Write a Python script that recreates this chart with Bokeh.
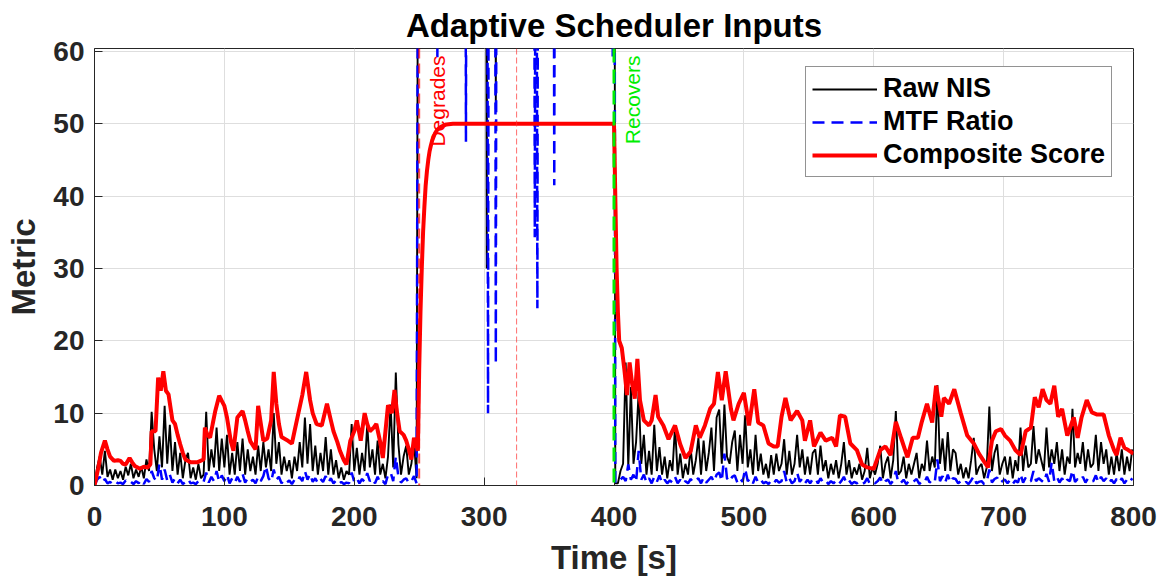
import numpy as np
from bokeh.plotting import figure
from bokeh.models import Range1d, Span, Label, FixedTicker
from bokeh.embed import file_html
from bokeh.resources import INLINE

# ---------------- data ----------------
# Raw NIS, before the fault: t = 0, 2, 4, ..., 248 s
nis_pre = [
    0.0, 2.5, 4.0, 1.5, 4.8, 1.2, 2.2, 0.8, 2.2, 1.0,
    2.0, 0.8, 2.6, 1.4, 3.0, 1.0, 2.2, 1.2, 2.6, 1.0,
    3.6, 2.0, 10.2, 5.0, 2.0, 6.8, 2.5, 11.0, 3.0, 8.4,
    2.0, 6.0, 1.5, 4.5, 1.0, 3.5, 4.5, 1.0, 2.5, 0.8,
    3.0, 1.0, 1.5, 10.2, 2.0, 5.0, 2.5, 8.0, 2.0, 6.5,
    2.5, 7.0, 1.5, 4.5, 1.5, 6.0, 2.0, 6.5, 1.5, 5.0,
    2.0, 4.0, 1.5, 5.5, 2.0, 6.0, 2.5, 5.0, 2.0, 10.0,
    3.0, 6.0, 1.5, 4.0, 2.0, 3.5, 1.0, 4.0, 2.0, 6.0,
    2.5, 9.4, 3.0, 8.5, 2.0, 5.5, 1.5, 4.5, 2.0, 6.7,
    1.5, 5.0, 1.5, 3.5, 1.0, 2.5, 0.8, 2.0, 1.5, 8.5,
    2.0, 5.2, 1.5, 4.5, 2.0, 8.5, 2.5, 5.0, 1.5, 6.2,
    1.5, 3.0, 1.0, 4.0, 11.2, 2.5, 15.6, 5.7, 1.5, 4.0,
    5.5, 1.5, 3.0, 6.0, 1.0,
]
# Raw NIS during the fault (values above 60 run off the top of the axes)
nis_fault_t = [250, 301, 302, 303, 308, 309, 310, 400]
nis_fault_v = [150, 150, 30, 150, 150, 52, 150, 150]
# Raw NIS after recovery: t = 401, 403, ..., 799 s
nis_post = [
    0.3, 0.3, 2.0, 3.0, 17.0, 2.5, 13.6, 3.0, 6.0, 13.0,
    3.0, 7.0, 1.5, 4.8, 1.5, 8.4, 2.0, 5.3, 1.5, 4.0,
    1.0, 3.5, 2.0, 8.2, 1.5, 4.4, 1.0, 3.0, 1.5, 5.2,
    1.5, 3.5, 6.6, 1.5, 6.2, 2.0, 4.5, 8.0, 2.0, 9.4,
    10.5, 3.0, 11.2, 4.0, 3.0, 6.0, 7.6, 2.0, 7.0, 3.0,
    9.7, 2.5, 5.0, 1.5, 7.0, 2.0, 4.4, 1.5, 3.0, 1.0,
    4.2, 1.5, 4.4, 2.0, 3.0, 6.4, 1.5, 4.8, 1.5, 3.0,
    7.0, 2.5, 5.0, 1.5, 4.0, 1.5, 4.5, 5.0, 1.5, 5.5,
    2.0, 3.5, 1.0, 3.0, 1.5, 3.5, 1.0, 3.0, 6.0, 1.5,
    3.5, 1.0, 2.5, 1.5, 3.0, 0.8, 2.0, 5.2, 1.0, 2.5,
    1.5, 3.0, 5.5, 1.0, 3.0, 4.0, 1.0, 3.5, 10.3, 1.5,
    2.0, 4.0, 1.0, 3.0, 1.5, 3.0, 4.5, 1.0, 3.0, 2.0,
    6.2, 2.0, 4.0, 2.5, 13.9, 3.0, 6.5, 2.0, 7.4, 2.0,
    5.0, 4.5, 1.5, 3.0, 1.0, 2.5, 1.0, 3.5, 6.6, 1.5,
    2.5, 3.0, 1.0, 2.5, 10.9, 2.0, 4.5, 5.7, 1.5, 3.0,
    4.0, 1.5, 4.0, 1.0, 3.5, 2.0, 8.0, 2.0, 5.5, 2.5,
    3.0, 8.2, 3.0, 5.0, 3.5, 2.0, 8.0, 2.5, 5.0, 3.0,
    6.0, 2.0, 5.0, 1.5, 4.0, 3.0, 10.6, 2.5, 4.5, 3.0,
    6.0, 2.0, 5.0, 2.5, 3.0, 7.0, 2.0, 6.0, 3.0, 5.0,
    1.5, 4.0, 1.5, 4.5, 2.0, 5.0, 1.5, 4.0, 2.0, 5.0,
]

# MTF ratio, before the fault: t = 0, 2, ..., 248 s
mtf_pre = [
    0.0, 0.8, 1.2, 0.4, 0.9, 0.3, 0.5, 0.2, 0.6, 0.3,
    0.4, 0.2, 0.7, 0.3, 0.5, 0.2, 0.6, 0.3, 0.8, 0.2,
    0.9, 0.5, 2.0, 1.0, 0.6, 3.0, 0.8, 2.2, 0.7, 1.5,
    0.4, 1.0, 0.3, 0.8, 0.2, 0.5, 0.9, 0.3, 0.4, 0.2,
    0.6, 0.3, 0.5, 1.8, 0.4, 1.2, 0.6, 2.0, 0.5, 1.4,
    0.6, 1.5, 0.3, 1.0, 0.4, 1.2, 0.5, 1.6, 0.4, 1.0,
    0.5, 0.8, 0.3, 1.2, 0.6, 1.3, 2.7, 1.0, 0.5, 2.2,
    0.8, 1.2, 0.3, 0.8, 0.4, 0.7, 0.2, 0.8, 0.5, 1.2,
    0.6, 2.0, 0.8, 1.6, 0.5, 1.0, 0.3, 0.9, 0.5, 1.3,
    0.4, 1.0, 0.3, 0.7, 0.2, 0.5, 0.2, 0.4, 0.3, 1.8,
    0.5, 1.0, 0.3, 0.9, 0.5, 1.7, 0.6, 1.0, 0.3, 1.2,
    0.3, 0.6, 0.2, 1.5, 1.8, 0.6, 4.0, 1.2, 0.4, 0.8,
    1.0, 0.3, 0.6, 1.3, 0.3,
]
mtf_fault_t = [250, 263, 264, 265, 285, 286, 287, 302, 303, 304, 308, 309, 310,
               338, 339, 340, 341, 342, 353, 354, 355, 398, 399, 400]
mtf_fault_v = [150, 150, 59.2, 150, 150, 47.5, 150, 150, 10.0, 150, 150, 16.8, 150,
               150, 34.3, 120, 24.5, 150, 150, 41.5, 150, 150, 59.3, 150]
# MTF ratio after recovery: t = 401, 403, ..., 799 s
mtf_post = [
    0.3, 0.5, 0.8, 1.2, 0.6, 2.9, 0.8, 1.5, 0.5, 4.8,
    0.8, 1.5, 0.4, 1.0, 0.3, 1.2, 0.5, 1.4, 0.3, 0.8,
    0.3, 0.7, 0.4, 1.2, 0.3, 0.8, 0.2, 0.6, 0.3, 0.9,
    0.4, 0.7, 1.0, 0.3, 1.1, 0.4, 0.8, 1.2, 0.5, 1.5,
    1.8, 0.6, 4.4, 1.0, 0.5, 1.2, 1.4, 0.4, 1.0, 0.5,
    2.3, 0.6, 1.0, 0.3, 1.2, 0.4, 0.8, 0.3, 0.5, 0.2,
    0.7, 0.3, 0.8, 0.4, 0.6, 2.0, 0.4, 1.0, 0.3, 0.6,
    1.8, 0.5, 1.0, 0.3, 0.8, 0.3, 0.9, 1.0, 0.3, 1.0,
    0.4, 0.7, 0.2, 0.6, 0.3, 0.7, 0.2, 0.6, 1.2, 0.3,
    0.7, 0.2, 0.5, 0.3, 0.6, 0.2, 0.4, 1.0, 0.2, 0.5,
    0.3, 0.6, 1.1, 0.2, 0.6, 0.8, 0.2, 0.7, 2.0, 0.3,
    0.4, 0.8, 0.2, 0.6, 0.3, 0.6, 0.9, 0.2, 0.6, 0.4,
    1.2, 0.4, 0.8, 0.5, 3.6, 0.6, 1.3, 0.4, 1.5, 0.4,
    1.0, 0.9, 0.3, 0.6, 0.2, 0.5, 0.2, 0.7, 1.3, 0.3,
    0.5, 0.6, 0.2, 0.5, 2.2, 0.4, 0.9, 1.1, 0.3, 0.6,
    0.8, 0.3, 0.8, 0.2, 0.7, 0.4, 1.6, 0.4, 1.1, 0.5,
    0.6, 2.0, 0.6, 1.0, 0.7, 0.4, 1.6, 0.5, 3.2, 0.6,
    1.2, 0.4, 1.0, 0.3, 0.8, 0.6, 2.1, 0.5, 0.9, 0.6,
    1.2, 0.4, 1.0, 0.5, 0.6, 1.4, 0.4, 1.2, 0.6, 1.0,
    0.3, 0.8, 0.3, 0.9, 0.4, 1.0, 0.3, 0.8, 0.4, 1.0,
]

# Composite score (time [s], value)
score_t = [0, 3, 5, 8, 10, 12, 15, 18, 20, 22, 24, 27, 29, 31, 35, 38, 41, 43, 44, 47,
           49, 51, 53, 55, 57, 60, 62, 64, 66, 68, 70, 74, 79, 84, 85, 87, 89, 91, 93, 96,
           98, 100, 102, 105, 107, 110, 114, 116, 118, 120, 124, 126, 130, 133, 136, 138, 140, 142, 144, 148,
           152, 154, 157, 160, 163, 166, 168, 171, 175, 179, 182, 184, 187, 189, 192, 194, 197, 200, 202, 205,
           208, 210, 212, 215, 217, 220, 222, 226, 229, 231, 233, 235, 238, 240, 242, 244, 246, 248, 249,
           250, 251, 252, 253, 254, 255, 256, 257, 258, 259, 260, 262, 264, 267, 271, 276, 400,
           401, 402, 403, 404, 406, 408, 410, 412, 414, 416, 418, 420, 423, 427, 429, 432, 434, 438, 442,
           447, 451, 455, 459, 463, 466, 470, 474, 477, 480, 483, 486, 490, 492, 496, 500, 504, 508, 511,
           515, 519, 523, 526, 529, 532, 536, 541, 545, 547, 551, 554, 559, 563, 568, 571, 574, 578, 582,
           587, 591, 595, 600, 605, 609, 613, 617, 621, 626, 630, 634, 637, 641, 645, 648, 652, 654, 658,
           662, 667, 672, 677, 681, 685, 688, 691, 694, 698, 701, 705, 709, 713, 717, 721, 724, 727, 730,
           733, 736, 739, 742, 745, 749, 754, 757, 760, 764, 768, 772, 777, 781, 785, 787, 790, 793, 796, 800]
score_v = [0.0, 2.5, 4.5, 6.2, 5.0, 4.0, 3.4, 3.5, 3.4, 3.0, 2.9, 3.8, 3.2, 2.7, 2.3, 2.6, 2.5, 2.9, 7.5, 7.5,
           14.9, 13.1, 15.8, 13.1, 12.6, 9.0, 8.5, 7.0, 5.7, 4.5, 3.6, 3.2, 3.2, 3.6, 8.0, 7.0, 6.6, 8.5, 10.3, 12.4,
           11.7, 11.0, 9.4, 6.1, 4.8, 9.4, 10.3, 9.0, 7.5, 6.1, 5.0, 11.0, 6.2, 6.5, 9.0, 15.7, 11.3, 8.5, 6.7, 6.3,
           5.8, 7.5, 10.0, 12.5, 15.7, 11.8, 10.0, 8.5, 8.3, 11.3, 9.0, 7.5, 6.0, 4.8, 3.5, 2.9, 6.2, 7.5, 9.0, 6.2,
           10.0, 8.5, 7.5, 8.0, 8.5, 6.0, 3.8, 11.1, 10.0, 13.2, 10.0, 7.5, 7.0, 6.2, 5.0, 3.6, 6.6, 5.5, 4.8,
           16.0, 24.0, 30.0, 35.0, 38.5, 41.5, 43.5, 45.0, 46.2, 47.0, 47.7, 48.6, 49.2, 49.6, 49.9, 50.0, 50.0,
           40.0, 30.0, 24.0, 20.0, 19.0, 16.0, 12.5, 17.0, 14.0, 12.0, 17.5, 11.8, 9.0, 8.3, 9.0, 12.5, 9.5, 8.3, 6.4,
           8.3, 5.7, 3.8, 4.7, 8.3, 6.6, 8.3, 10.6, 11.3, 15.7, 11.8, 15.8, 10.6, 9.0, 11.3, 12.8, 8.3, 13.3, 8.7,
           8.3, 5.8, 5.4, 5.4, 9.5, 12.1, 9.0, 10.3, 9.0, 6.2, 9.0, 5.4, 7.3, 6.2, 6.6, 5.4, 9.7, 9.5, 5.8,
           4.9, 2.9, 2.5, 2.3, 4.9, 5.4, 4.2, 8.8, 6.6, 3.9, 6.6, 6.6, 8.8, 11.3, 8.7, 13.8, 9.5, 12.1, 11.3,
           13.3, 10.0, 6.9, 5.8, 4.4, 3.3, 2.5, 6.2, 7.5, 7.8, 6.9, 6.2, 4.9, 4.2, 7.5, 8.0, 12.2, 10.8, 13.3,
           11.8, 11.3, 13.8, 9.5, 10.6, 6.9, 9.4, 6.6, 9.4, 11.8, 10.1, 9.8, 9.8, 6.9, 4.9, 4.2, 6.6, 5.2, 4.9, 4.4]

event_times = [250, 400]
event_labels = ["Degrades", "Recovers"]
event_colors = ["#ff0000", "#00ee00"]
mid_marker_time = 325

x_ticks = [0, 100, 200, 300, 400, 500, 600, 700, 800]
y_ticks = [0, 10, 20, 30, 40, 50, 60]
title_text = "Adaptive Scheduler Inputs"

# ---------------- assemble series ----------------
nis_t = list(range(0, 2 * len(nis_pre), 2)) + nis_fault_t + list(range(401, 401 + 2 * len(nis_post), 2))
nis_v = nis_pre + nis_fault_v + nis_post
mtf_t = list(range(0, 2 * len(mtf_pre), 2)) + mtf_fault_t + list(range(401, 401 + 2 * len(mtf_post), 2))
mtf_v = mtf_pre + mtf_fault_v + mtf_post

FONT = "Liberation Sans"
INK = "#262626"
Y_TOP = 60.4
PX_PER_Y = 437.0 / Y_TOP

p = figure(width=1166, height=584, output_backend="svg", toolbar_location=None,
           x_range=Range1d(0, 800), y_range=Range1d(0, Y_TOP),
           min_border_left=94, min_border_right=33, min_border_top=48, min_border_bottom=99,
           title=title_text)
p.title.text_font = FONT
p.title.text_font_size = "33px"
p.title.text_font_style = "bold"
p.title.text_color = "black"
p.title.align = "center"
p.title.standoff = 9

p.line(nis_t, nis_v, line_color="black", line_width=1.9, legend_label="Raw NIS")
p.line(mtf_t, mtf_v, line_color="#0000ff", line_width=2.5, line_dash="12 7", legend_label="MTF Ratio")
p.line(score_t, score_v, line_color="#ff0000", line_width=4, legend_label="Composite Score")

# event markers
p.add_layout(Span(location=mid_marker_time, dimension="height", line_color="#ff3030",
                  line_alpha=0.7, line_width=1, line_dash="6 3"))
p.add_layout(Span(location=event_times[0], dimension="height", line_color=event_colors[0],
                  line_alpha=0.7, line_width=2, line_dash="10 5"))
p.add_layout(Span(location=event_times[1], dimension="height", line_color=event_colors[1],
                  line_width=3, line_dash="14 7"))
for t, lab, col in zip(event_times, event_labels, event_colors):
    p.add_layout(Label(x=t, y=Y_TOP - 7 / PX_PER_Y, text=lab, angle=90, angle_units="deg",
                       text_align="right", text_baseline="top", x_offset=7,
                       text_font=FONT, text_font_size="21px", text_color=col))

# axes
for ax in (p.xaxis[0], p.yaxis[0]):
    ax.major_label_text_font = FONT
    ax.major_label_text_font_size = "28px"
    ax.major_label_text_font_style = "bold"
    ax.major_label_text_color = INK
    ax.axis_label_text_font = FONT
    ax.axis_label_text_font_size = "33px"
    ax.axis_label_text_font_style = "bold"
    ax.axis_label_text_color = INK
    ax.axis_line_color = INK
    ax.major_tick_line_color = INK
    ax.major_tick_in = 8
    ax.major_tick_out = 0
    ax.minor_tick_line_color = None
p.xaxis.ticker = FixedTicker(ticks=x_ticks)
p.yaxis.ticker = FixedTicker(ticks=y_ticks)
p.xaxis.axis_label = "Time [s]"
p.yaxis.axis_label = "Metric"
p.xaxis.major_label_standoff = 21
p.yaxis.major_label_standoff = 10
p.xaxis.axis_label_standoff = 10
p.yaxis.axis_label_standoff = 8

p.grid.grid_line_color = "#dedede"
p.outline_line_color = INK
p.outline_line_width = 1
p.background_fill_color = "white"
p.border_fill_color = "white"

lg = p.legend[0]
lg.location = (711, 308)
lg.label_text_font = FONT
lg.label_text_font_size = "27px"
lg.label_text_font_style = "bold"
lg.label_text_color = "black"
lg.glyph_width = 65
lg.glyph_height = 20
lg.label_standoff = 6
lg.spacing = 2
lg.padding = 6
lg.margin = 0
lg.border_line_color = INK
lg.border_line_width = 1
lg.background_fill_alpha = 1.0

open("out.html", "w").write(file_html(p, INLINE))
